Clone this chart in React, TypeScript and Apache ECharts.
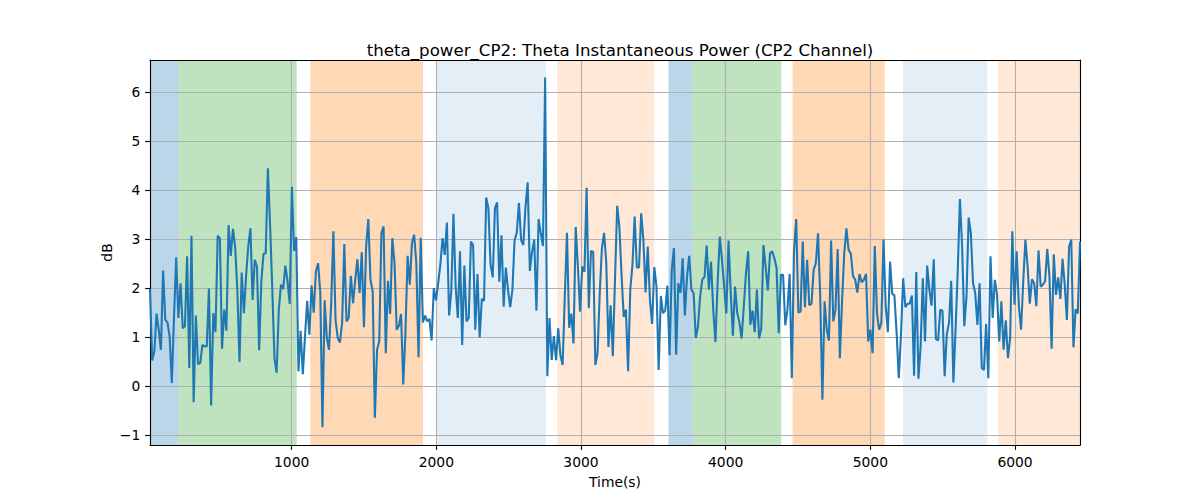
import React, { useEffect, useRef } from "react";
import * as echarts from "echarts";

const TITLE = "theta_power_CP2: Theta Instantaneous Power (CP2 Channel)";
const X_LABEL = "Time(s)";
const Y_LABEL = "dB";

const T_START = 21;
const T_END = 6449;
const Y_MIN = -1.205;
const Y_MAX = 6.66;
const X_TICKS = [1000, 2000, 3000, 4000, 5000, 6000];
const Y_TICKS = [-1, 0, 1, 2, 3, 4, 5, 6];

const seg1 = [1.98, 0.52, 0.71, 1.48, 1.15, 0.74, 2.36, 1.35, 1.30, 1.01, 0.06, 1.42, 2.63, 1.39, 2.10, 1.18, 1.22, 2.65, 0.37, 3.07, -0.33, 1.44, 0.45, 0.47, 0.84, 0.81, 0.81, 1.99, -0.40, 1.49, 1.10, 3.07, 3.02, 0.76, 1.56, 1.13, 3.29, 2.66, 3.21, 2.85, 1.97, 0.49, 2.32, 1.49, 2.24, 2.85, 3.22, 1.76, 2.58, 2.44, 0.73, 2.14, 2.70, 2.71, 4.45];
const seg2 = [3.3, 2.0, 0.57, 0.27, 1.56, 2.07, 1.98, 2.46, 2.14, 1.68, 4.07, 2.76, 3.04, 0.30, 1.13, 0.24, 1.01, 1.74, 1.05, 2.05, 1.50, 2.34, 2.51, 1.90, -0.84, 1.75, 0.98, 0.74, 1.69, 3.16, 1.35, 0.98, 0.89, 1.29, 2.90, 1.32, 1.39, 2.25, 1.69, 2.17, 2.59, 1.90, 2.73, 1.20, 2.85, 3.41, 2.17, 1.93, -0.65, 0.74, 0.91, 3.12, 3.26, 0.67];
const seg3 = [2.15, 1.47, 3.02, 2.51, 1.15, 1.23, 1.47, 0.03, 1.08, 2.66, 2.07, 2.92, 3.09, 2.51, 0.59, 3.03, 1.30, 1.44, 1.32, 1.37, 0.93, 2.0, 1.75, 2.10, 2.48, 3.02, 2.68, 3.34, 1.44, 1.93, 3.52, 2.03, 1.39, 2.75, 0.84, 2.46, 1.32, 1.39, 2.95, 2.88, 1.15, 2.29, 0.99, 1.78, 1.74, 3.85, 3.63, 2.48, 2.22, 3.63, 3.75];
const seg4 = [2.13, 3.08, 1.62, 2.42, 1.96, 1.61, 1.96, 2.98, 3.13, 3.74, 2.98, 2.88, 3.66, 4.16, 2.35, 2.74, 2.99, 1.54, 3.41, 3.12, 2.86, 6.30, 0.20, 1.39, 0.53, 1.02, 0.53, 1.18, 0.63, 0.43, 1.82, 3.13, 1.19, 1.48, 0.87, 3.25, 2.44, 1.52, 2.44, 2.33, 4.05, 1.59, 2.76, 2.74, 0.43, 0.67, 1.89, 2.81, 3.13, 2.52, 0.80, 1.65, 0.61, 2.18, 3.68, 3.25, 2.27, 1.41, 1.56];
const seg5 = [0.30, 1.97, 2.48, 3.46, 2.42, 2.42, 3.53, 2.99, 1.91, 2.85, 1.76, 1.27, 2.43, 2.03, 0.33, 1.84, 1.49, 1.54, 2.05, 0.63, 2.37, 2.82, 0.64, 2.10, 1.90, 2.61, 1.44, 2.24, 2.66, 1.97, 1.90, 0.98, 1.22, 1.83, 2.18, 2.22, 2.87, 1.97, 2.54, 1.56, 0.90, 2.10, 3.05, 2.58, 2.03, 1.48, 2.97, 1.91, 1.03, 2.03, 1.49, 1.30, 0.97, 1.63, 2.31, 2.75];
const seg6 = [1.25, 1.54, 1.10, 1.97, 0.97, 1.18, 2.88, 2.44, 1.95, 2.71, 2.75, 2.61, 2.41, 1.08, 2.27, 2.27, 1.24, 1.56, 2.29, 0.16, 2.75, 3.41, 1.50, 1.52, 2.95, 1.61, 2.58, 1.65, 1.68, 2.37, 2.51, 3.12, 1.83, -0.28, 1.73, 1.15, 0.93, 2.97, 1.32, 1.56, 2.80, 0.57, 1.73, 2.71, 3.22, 2.78, 2.71, 2.25, 2.17, 1.91, 2.29, 2.12, 2.17, 2.29, 0.91];
const seg7 = [1.15, 0.67, 2.86, 1.49, 1.15, 1.29, 2.99, 1.63, 1.10, 2.54, 1.88, 1.85, 1.08, 0.16, 1.05, 2.20, 1.61, 1.68, 1.68, 1.85, 0.21, 2.33, 0.15, 0.81, 2.20, 0.91, 2.46, 1.97, 1.64, 2.59, 0.96, 0.93, 1.56, 1.54, 0.20, 1.06, 1.29, 2.15, 0.07, 1.15, 2.36, 3.82, 2.85, 1.22, 1.83, 3.44, 3.12, 2.10, 1.90];
const seg8 = [1.25, 2.10, 0.37, 0.33, 1.27, 0.16, 2.65, 1.39, 2.17, 1.86, 0.91, 1.73, 0.74, 1.34, 0.57, 0.98, 3.16, 1.66, 2.75, 1.63, 1.15, 2.14, 2.99, 2.44, 1.68, 2.18, 2.10, 1.63, 2.77, 2.03, 2.07, 2.14, 2.80, 2.24, 0.76, 2.69, 1.86, 2.22, 1.78, 2.60, 2.07, 1.35, 2.85, 2.99, 0.79, 1.57, 1.48, 2.95];

// shaded spans
const spanStarts = [21, 217, 1129, 2005, 2835, 3604, 3772, 4462, 5225, 5881];
const spanEnds = [217, 1035, 1908, 2758, 3507, 3772, 4384, 5099, 5808, 6449];
const spanColors = [
  "rgba(31,119,180,0.3)",
  "rgba(44,160,44,0.3)",
  "rgba(255,127,14,0.3)",
  "rgba(31,119,180,0.12)",
  "rgba(255,127,14,0.17)",
  "rgba(31,119,180,0.3)",
  "rgba(44,160,44,0.3)",
  "rgba(255,127,14,0.3)",
  "rgba(31,119,180,0.12)",
  "rgba(255,127,14,0.17)",
];

const FONT = "DejaVu Sans";
const PT = 100 / 72;

export default function App() {
  const ref = useRef<HTMLDivElement>(null);
  useEffect(() => {
    if (!ref.current) return;
    const chart = echarts.init(ref.current, null, { renderer: "svg" });
    const values = [...seg1, ...seg2, ...seg3, ...seg4, ...seg5, ...seg6, ...seg7, ...seg8];
    const n = values.length;
    const step = (T_END - T_START) / (n - 1);
    const data = values.map((v, i) => [T_START + i * step, v]);
    const areas = spanStarts.map((s, i) => [
      { xAxis: s, itemStyle: { color: spanColors[i] } },
      { xAxis: spanEnds[i] },
    ]);
    const minus = (v: number) => String(v).replace("-", "\u2212");
    const spine = { show: true, onZero: false, lineStyle: { color: "#000", width: 0.8 * PT } };
    const axisCommon = {
      z: 2,
      axisLine: spine,
      axisTick: { show: true, length: 3.5 * PT, lineStyle: { color: "#000", width: 0.8 * PT } },
      splitLine: { show: true, lineStyle: { color: "#b0b0b0", width: 0.8 * PT } },
      axisLabel: { color: "#000", fontFamily: FONT, fontSize: 10 * PT, margin: 7 * PT },
    };
    chart.setOption({
      animation: false,
      title: {
        text: TITLE,
        left: 615,
        textAlign: "center",
        top: 37,
        textStyle: { fontFamily: FONT, fontSize: 12 * PT, fontWeight: "normal", color: "#000" },
      },
      grid: { left: 150, right: 120, top: 60, bottom: 55, show: false },
      xAxis: [
        {
          ...axisCommon,
          type: "value",
          min: T_START,
          max: T_END,
          name: X_LABEL,
          nameLocation: "middle",
          nameGap: 30,
          nameTextStyle: { fontFamily: FONT, fontSize: 10 * PT, color: "#000" },
          axisTick: { ...axisCommon.axisTick, customValues: X_TICKS },
          axisLabel: { ...axisCommon.axisLabel, customValues: X_TICKS, formatter: minus },
        },
        {
          type: "value",
          position: "top",
          min: T_START,
          max: T_END,
          z: 2,
          axisLine: spine,
          axisTick: { show: false },
          axisLabel: { show: false },
          splitLine: { show: false },
        },
      ],
      yAxis: [
        {
          ...axisCommon,
          type: "value",
          min: Y_MIN,
          max: Y_MAX,
          name: Y_LABEL,
          nameLocation: "middle",
          nameGap: 36,
          nameMoveOverlap: false,
          nameTextStyle: { fontFamily: FONT, fontSize: 10 * PT, color: "#000" },
          axisTick: { ...axisCommon.axisTick, customValues: Y_TICKS },
          axisLabel: { ...axisCommon.axisLabel, customValues: Y_TICKS, formatter: minus },
        },
        {
          type: "value",
          position: "right",
          min: Y_MIN,
          max: Y_MAX,
          z: 2,
          axisLine: spine,
          axisTick: { show: false },
          axisLabel: { show: false },
          splitLine: { show: false },
        },
      ],
      series: [
        {
          type: "line",
          z: 0,
          data: [],
          silent: true,
          markArea: { silent: true, z: 0, data: areas },
        },
        {
          type: "line",
          z: 3,
          data,
          showSymbol: false,
          symbol: "none",
          lineStyle: { color: "#1f77b4", width: 1.5 * PT },
          itemStyle: { color: "#1f77b4" },
        },
      ],
    });
    return () => chart.dispose();
  }, []);
  return (
    <div
      ref={ref}
      style={{ position: "fixed", left: 0, top: 0, width: 1200, height: 500, background: "#fff" }}
    />
  );
}
